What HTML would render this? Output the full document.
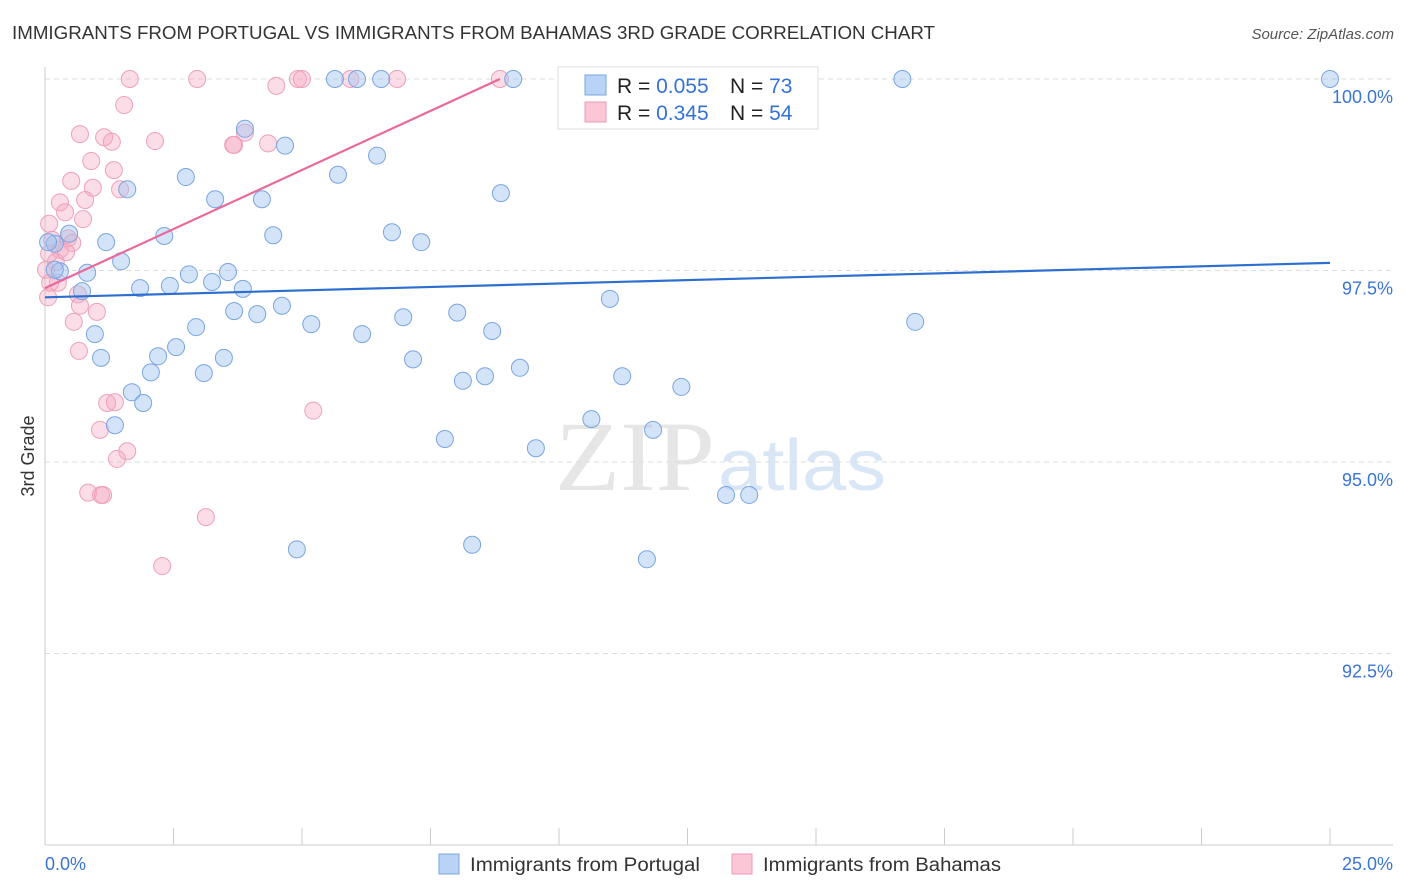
<!DOCTYPE html>
<html><head><meta charset="utf-8"><style>
body{margin:0;background:#fff;font-family:"Liberation Sans",sans-serif;}
svg{display:block}
</style></head><body>
<svg id="chart" width="1406" height="892">
<text x="12" y="39" font-size="18" fill="#333" textLength="923" lengthAdjust="spacingAndGlyphs">IMMIGRANTS FROM PORTUGAL VS IMMIGRANTS FROM BAHAMAS 3RD GRADE CORRELATION CHART</text>
<text x="1394" y="39" font-size="15" fill="#555" font-style="italic" text-anchor="end">Source: ZipAtlas.com</text>
<text x="555" y="490" font-size="100" fill="#e6e6e6" textLength="160" lengthAdjust="spacingAndGlyphs" font-family="Liberation Serif">ZIP</text>
<text x="718" y="490" font-size="72" fill="#d8e6f5" textLength="168" lengthAdjust="spacingAndGlyphs">atlas</text>
<text transform="translate(34,456) rotate(-90)" font-size="18" fill="#333" text-anchor="middle">3rd Grade</text>
<g id="grid"></g><g id="axes"></g><g id="marks"></g><g id="trends"></g>
<g>
<rect x="558" y="67" width="260" height="62" fill="#fff" stroke="#ddd"/>
<rect x="585" y="75" width="21" height="20" fill="#b8d3f5" stroke="#7aa7e0"/>
<rect x="585" y="102" width="21" height="20" fill="#fbc7d6" stroke="#ee9ab4"/>
<text x="617" y="93" font-size="21" fill="#222">R = <tspan fill="#3572d6">0.055</tspan></text>
<text x="730" y="93" font-size="21" fill="#222">N = <tspan fill="#3572d6">73</tspan></text>
<text x="617" y="120" font-size="21" fill="#222">R = <tspan fill="#3572d6">0.345</tspan></text>
<text x="730" y="120" font-size="21" fill="#222">N = <tspan fill="#3572d6">54</tspan></text>
</g>
<g>
<rect x="439" y="854" width="20" height="20" fill="#b8d3f5" stroke="#7aa7e0"/>
<text x="470" y="871" font-size="19" fill="#333" textLength="230" lengthAdjust="spacingAndGlyphs">Immigrants from Portugal</text>
<rect x="732" y="854" width="20" height="20" fill="#fbc7d6" stroke="#ee9ab4"/>
<text x="763" y="871" font-size="19" fill="#333" textLength="238" lengthAdjust="spacingAndGlyphs">Immigrants from Bahamas</text>
</g>
</svg>
<script>
const yTicks=[100,97.5,95,92.5];
const yTickLabels=["100.0%","97.5%","95.0%","92.5%"];
const xTickLabels=["0.0%","25.0%"];
const blueX=[5.64,6.07,6.54,9.11,16.68,25.0,3.89,4.67,6.46,2.74,5.70,1.60,3.31,4.22,8.87,2.32,4.44,6.75,7.32,1.19,0.47,0.19,1.48,0.29,0.82,2.80,3.56,3.25,1.85,2.43,3.85,0.72,4.61,3.68,4.13,5.18,6.97,8.02,10.99,2.94,6.17,8.70,16.93,0.97,2.55,2.20,1.09,3.48,7.16,2.06,3.09,9.24,8.13,8.56,11.23,12.38,1.69,1.91,1.36,10.63,7.78,11.83,9.55,13.25,13.70,4.90,8.31,11.71,0.06,0.19];
const blueY=[100,100,100,100,100,100,99.35,99.13,99.0,98.72,98.75,98.56,98.43,98.43,98.51,97.95,97.96,98.0,97.87,97.87,97.98,97.85,97.62,97.49,97.47,97.45,97.48,97.35,97.27,97.30,97.26,97.23,97.04,96.97,96.93,96.80,96.89,96.95,97.13,96.76,96.67,96.71,96.83,96.67,96.50,96.38,96.36,96.36,96.34,96.17,96.16,96.23,96.06,96.12,96.12,95.98,95.91,95.77,95.48,95.56,95.30,95.42,95.18,94.57,94.57,93.86,93.92,93.73,97.87,97.51];
const pinkX=[1.65,2.96,4.92,5.00,5.94,6.85,8.85,4.50,1.54,0.68,1.15,1.30,2.14,3.89,4.34,3.68,0.90,1.34,0.51,0.93,1.46,0.29,0.78,0.39,0.74,0.08,0.14,0.45,0.53,0.29,0.08,0.41,0.21,0.25,0.06,0.64,0.68,1.01,0.56,0.66,1.21,1.36,1.07,1.60,1.40,5.22,0.84,1.09,1.13,3.13,2.28,0.02,0.10,3.66];
const pinkY=[100,100,100,100,100,100,100,99.91,99.66,99.28,99.24,99.18,99.19,99.30,99.16,99.14,98.93,98.81,98.67,98.58,98.56,98.39,98.42,98.26,98.17,98.11,97.90,97.92,97.86,97.77,97.72,97.74,97.61,97.34,97.15,97.19,97.04,96.96,96.83,96.45,95.77,95.78,95.42,95.14,95.04,95.67,94.60,94.57,94.57,94.28,93.64,97.51,97.34,99.14];
const blueTrendX=[0,25];
const blueTrendY=[97.15,97.60];
const pinkTrendX=[0,8.85];
const pinkTrendY=[97.27,100];
const NS="http://www.w3.org/2000/svg";
const X=v=>45+v/25*1285;
const Y=v=>79+(100-v)*76.6;
function mk(tag,attrs,parent){const e=document.createElementNS(NS,tag);for(const k in attrs)e.setAttribute(k,attrs[k]);document.getElementById(parent).appendChild(e);return e;}
yTicks.forEach((t,i)=>{
  const l=mk('line',{x1:45,x2:1393,y1:Y(t),y2:Y(t),stroke:'#ddd','stroke-dasharray':'5,4'},'grid');
  
  
  const tx=mk('text',{x:1393,y:Y(t)+24,'font-size':18,fill:'#3a74d4','text-anchor':'end'},'grid');
  tx.textContent=yTickLabels[i];
  
  
});
let a=mk('line',{x1:45,x2:45,y1:67,y2:845,stroke:'#ccc'},'axes');


a=mk('line',{x1:45,x2:1393,y1:845,y2:845,stroke:'#ccc'},'axes');


for(let i=0;i<=10;i++){
  const t=mk('line',{x1:X(i*2.5),x2:X(i*2.5),y1:828,y2:845,stroke:'#ccc'},'axes');
  
  
}
let xl=mk('text',{x:45,y:870,'font-size':18,fill:'#3a74d4'},'axes');xl.textContent=xTickLabels[0];


xl=mk('text',{x:1393,y:870,'font-size':18,fill:'#3a74d4','text-anchor':'end'},'axes');xl.textContent=xTickLabels[1];


pinkX.forEach((x,i)=>{
  const c=mk('circle',{cx:X(x),cy:Y(pinkY[i]),r:8.5,fill:'rgba(245,170,195,0.4)',stroke:'#eea0ba','stroke-width':1},'marks');
  
  
});
blueX.forEach((x,i)=>{
  const c=mk('circle',{cx:X(x),cy:Y(blueY[i]),r:8.5,fill:'rgba(160,195,240,0.45)',stroke:'#7aa5e0','stroke-width':1},'marks');
  
  
});
let tl=mk('line',{x1:X(blueTrendX[0]),y1:Y(blueTrendY[0]),x2:X(blueTrendX[1]),y2:Y(blueTrendY[1]),stroke:'#2d6fd0','stroke-width':2.2},'trends');


tl=mk('line',{x1:X(pinkTrendX[0]),y1:Y(pinkTrendY[0]),x2:X(pinkTrendX[1]),y2:Y(pinkTrendY[1]),stroke:'#e8699a','stroke-width':2.2},'trends');


</script>
</body></html>
